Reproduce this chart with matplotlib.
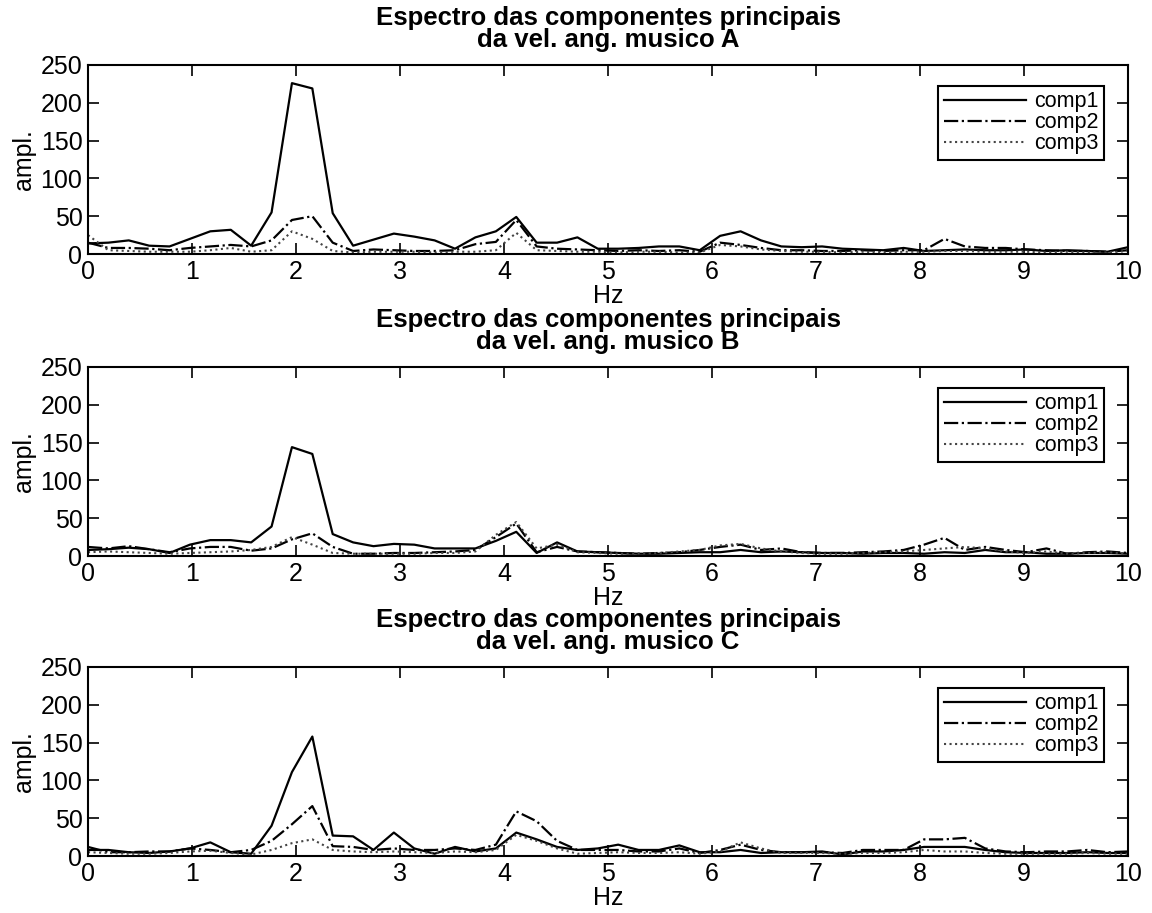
import numpy as np
import matplotlib
matplotlib.use("Agg")
import matplotlib.pyplot as plt

plt.rcParams['font.family'] = ['Liberation Sans', 'DejaVu Sans']

# frequency grid (Hz)
freq = [0.000, 0.196, 0.392, 0.588, 0.784, 0.980, 1.176, 1.373, 1.569, 1.765,
        1.961, 2.157, 2.353, 2.549, 2.745, 2.941, 3.137, 3.333, 3.529, 3.725,
        3.922, 4.118, 4.314, 4.510, 4.706, 4.902, 5.098, 5.294, 5.490, 5.686,
        5.882, 6.078, 6.275, 6.471, 6.667, 6.863, 7.059, 7.255, 7.451, 7.647,
        7.843, 8.039, 8.235, 8.431, 8.627, 8.824, 9.020, 9.216, 9.412, 9.608,
        9.804, 10.000]

# musico A
a_comp1 = [14, 15, 18, 11, 10, 20, 30, 32, 11, 55,
           226, 219, 54, 11, 19, 27, 23, 18, 7, 22,
           30, 49, 15, 15, 22, 7, 7, 8, 10, 10,
           5, 24, 30, 18, 10, 9, 10, 7, 6, 5,
           8, 4, 5, 6, 5, 5, 6, 4, 5, 4,
           3, 9]
a_comp2 = [15, 8, 8, 7, 5, 8, 10, 12, 10, 18,
           45, 50, 15, 4, 6, 5, 4, 4, 5, 13,
           16, 45, 10, 7, 6, 5, 4, 5, 4, 5,
           3, 15, 12, 8, 5, 5, 4, 4, 5, 4,
           5, 5, 20, 10, 8, 8, 6, 5, 4, 4,
           3, 5]
a_comp3 = [25, 5, 4, 3, 3, 3, 5, 8, 3, 5,
           30, 20, 4, 2, 3, 3, 3, 2, 3, 3,
           5, 28, 5, 4, 3, 3, 2, 3, 3, 2,
           2, 12, 10, 6, 4, 3, 3, 2, 3, 2,
           3, 3, 4, 4, 3, 3, 3, 2, 3, 2,
           2, 4]

# musico B
b_comp1 = [8, 9, 11, 9, 4, 15, 21, 21, 18, 39,
           144, 135, 29, 18, 13, 16, 15, 10, 10, 10,
           20, 32, 4, 18, 6, 5, 4, 3, 3, 4,
           5, 5, 8, 5, 6, 5, 4, 4, 3, 4,
           4, 3, 5, 4, 8, 5, 5, 3, 3, 4,
           4, 3]
b_comp2 = [12, 10, 13, 9, 5, 10, 12, 12, 7, 10,
           22, 30, 12, 3, 3, 4, 4, 5, 6, 8,
           25, 43, 5, 12, 6, 5, 4, 3, 4, 5,
           8, 12, 15, 8, 10, 5, 4, 4, 5, 6,
           8, 15, 24, 8, 12, 8, 5, 10, 3, 5,
           6, 4]
b_comp3 = [5, 6, 5, 4, 3, 4, 5, 6, 8, 12,
           25, 15, 4, 3, 3, 3, 3, 4, 4, 6,
           28, 45, 10, 15, 5, 4, 3, 3, 4, 6,
           8, 14, 16, 10, 6, 4, 3, 3, 4, 5,
           6, 8, 10, 12, 10, 6, 4, 6, 3, 4,
           5, 3]

# musico C
c_comp1 = [8, 8, 5, 4, 6, 10, 18, 5, 3, 40,
           111, 158, 27, 26, 8, 31, 10, 3, 12, 6,
           10, 31, 22, 12, 8, 10, 15, 8, 8, 14,
           5, 5, 8, 4, 5, 5, 6, 2, 6, 6,
           8, 12, 12, 12, 8, 5, 4, 4, 4, 5,
           4, 4]
c_comp2 = [12, 5, 5, 6, 6, 10, 8, 5, 8, 20,
           42, 66, 13, 12, 8, 10, 8, 8, 10, 8,
           15, 59, 46, 20, 8, 8, 8, 6, 6, 10,
           4, 8, 15, 8, 5, 5, 5, 4, 8, 8,
           8, 22, 22, 24, 10, 6, 5, 6, 6, 8,
           5, 6]
c_comp3 = [5, 4, 3, 3, 4, 6, 7, 4, 2, 8,
           17, 22, 8, 6, 5, 6, 5, 4, 6, 5,
           8, 28, 20, 10, 3, 4, 5, 4, 4, 5,
           3, 6, 18, 10, 4, 4, 4, 3, 4, 4,
           5, 8, 6, 6, 4, 3, 3, 3, 3, 4,
           3, 3]

panels = [("A", a_comp1, a_comp2, a_comp3),
          ("B", b_comp1, b_comp2, b_comp3),
          ("C", c_comp1, c_comp2, c_comp3)]

fig = plt.figure(figsize=(11.52, 9.13), dpi=100)
tops = [65, 367, 667]
for (name, c1, c2, c3), top in zip(panels, tops):
    ax = fig.add_axes([88 / 1152, 1 - (top + 189) / 913, 1040 / 1152, 189 / 913])
    ax.plot(freq, c1, color='black', linestyle='-', linewidth=1.6, label='comp1')
    ax.plot(freq, c2, color='black', linestyle='-.', linewidth=1.6, label='comp2')
    ax.plot(freq, c3, color='#444444', linestyle=':', linewidth=1.5, label='comp3')
    ax.set_xlim(0, 10)
    ax.set_ylim(0, 250)
    ax.set_xticks(range(0, 11))
    ax.set_yticks([0, 50, 100, 150, 200, 250])
    ax.tick_params(direction='in', top=True, right=True, length=8, width=1.2,
                   labelsize=18, pad=4)
    for s in ax.spines.values():
        s.set_linewidth(1.5)
    ax.set_xlabel('Hz', fontsize=18, labelpad=0)
    ax.set_ylabel('ampl.', fontsize=18, labelpad=3)
    ax.set_title('Espectro das componentes principais\nda vel. ang. musico ' + name,
                 fontsize=18.5, fontweight='bold', linespacing=0.9, pad=13)
    leg = ax.legend(loc='upper right', bbox_to_anchor=(0.977, 0.89), fontsize=15.5,
                    handlelength=3.8, labelspacing=0.0, borderpad=0.25,
                    handletextpad=0.4, fancybox=False, framealpha=1,
                    edgecolor='black', borderaxespad=0)
    leg.get_frame().set_linewidth(1.5)

fig.savefig('out.png', dpi=100)
